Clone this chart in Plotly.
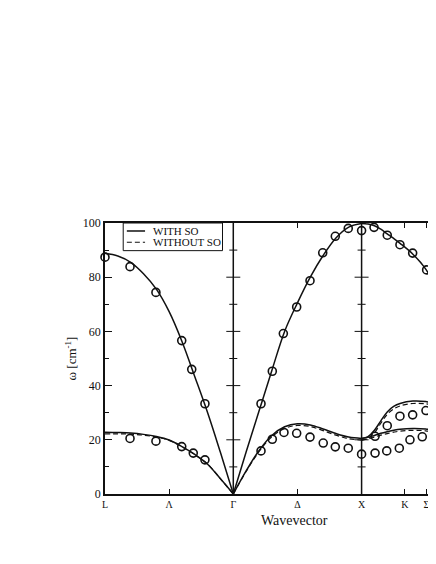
import plotly.graph_objects as go

# high-symmetry points along the path
sym_pos = [0.0, 0.5, 1.0, 1.5, 2.0, 2.338, 2.506]
sym_lbl = ['L', 'Λ', 'Γ', 'Δ', 'X', 'K', 'Σ']
x_end = 2.58

# L -> Gamma
q_lg = [0.0, 0.1, 0.2, 0.3, 0.4, 0.5, 0.6, 0.7, 0.8, 0.9, 1.0]
la_lg = [88.8, 87.8, 85.5, 81.3, 75.6, 67.3, 56.3, 43.3, 30.0, 15.3, 0.0]
ta_lg_so = [22.8, 22.7, 22.5, 22.0, 21.2, 19.9, 17.5, 14.6, 11.0, 5.6, 0.0]
ta_lg_noso = [22.2, 22.2, 22.1, 21.7, 21.0, 19.8, 17.4, 14.5, 11.0, 5.6, 0.0]

# Gamma -> X
q_gx = [1.0, 1.1, 1.2, 1.3, 1.4, 1.5, 1.6, 1.7, 1.8, 1.9, 2.0]
la_gx = [0.0, 15.5, 30.5, 45.5, 60.0, 70.5, 80.0, 88.0, 94.5, 98.5, 99.8]
ta_gx_so = [0.0, 8.5, 16.0, 21.6, 24.8, 25.9, 25.5, 24.0, 22.3, 21.0, 20.5]
ta_gx_noso = [0.0, 8.3, 15.6, 21.1, 24.2, 25.3, 24.9, 23.4, 21.7, 20.4, 19.9]

# X -> K -> Sigma
q_xk = [2.0, 2.05, 2.1, 2.15, 2.2, 2.25, 2.3, 2.4, 2.5, 2.58]
la_xk = [99.8, 99.6, 99.0, 97.7, 96.0, 94.3, 92.5, 88.5, 83.0, 76.0]
up_xk_so = [20.5, 21.2, 23.5, 27.0, 30.3, 32.3, 33.4, 34.3, 34.1, 33.3]
up_xk_noso = [19.9, 20.5, 22.6, 26.1, 29.4, 31.4, 32.5, 33.4, 33.3, 32.6]
lo_xk_so = [20.5, 20.9, 21.6, 22.4, 23.0, 23.5, 23.9, 24.2, 24.0, 23.3]
lo_xk_noso = [19.9, 20.3, 21.0, 21.7, 22.3, 22.8, 23.2, 23.5, 23.3, 22.6]

# experimental points
exp_q = [0.0, 0.195, 0.397, 0.598, 0.676, 0.779,
         0.195, 0.397, 0.598, 0.688, 0.779,
         1.216, 1.304, 1.39, 1.494, 1.598, 1.697, 1.795, 1.896, 2.0,
         2.097, 2.2, 2.299, 2.398, 2.507,
         1.216, 1.304, 1.395, 1.494, 1.598, 1.701, 1.795, 1.896, 2.0,
         2.105, 2.2, 2.299, 2.398, 2.502, 2.585,
         2.105, 2.196, 2.294, 2.377, 2.473, 2.575]
exp_w = [87.4, 83.9, 74.4, 56.6, 46.0, 33.3,
         20.5, 19.5, 17.5, 15.1, 12.6,
         33.3, 45.3, 59.2, 69.0, 78.7, 89.0, 95.1, 98.0, 97.2,
         98.4, 95.5, 92.0, 88.9, 82.7,
         15.9, 20.2, 22.7, 22.4, 21.0, 18.8, 17.4, 16.9, 14.7,
         21.3, 25.2, 28.7, 29.2, 30.8, 29.0,
         15.1, 15.9, 16.9, 20.0, 21.1, 21.4]

SERIF = 'Liberation Serif, Times New Roman, serif'
INK = '#111111'

fig = go.Figure()

solid = [(q_lg, la_lg), (q_lg, ta_lg_so), (q_gx, la_gx), (q_gx, ta_gx_so),
         (q_xk, la_xk), (q_xk, up_xk_so), (q_xk, lo_xk_so)]
dashed = [(q_lg, ta_lg_noso), (q_gx, ta_gx_noso), (q_xk, up_xk_noso), (q_xk, lo_xk_noso)]

for q, w in dashed:
    fig.add_trace(go.Scatter(x=q, y=w, mode='lines', line_shape='spline', showlegend=False,
                             line=dict(color=INK, width=1.2, dash='5px,3px')))
for q, w in solid:
    fig.add_trace(go.Scatter(x=q, y=w, mode='lines', line_shape='spline', showlegend=False,
                             line=dict(color=INK, width=1.5)))

fig.add_trace(go.Scatter(x=exp_q, y=exp_w, mode='markers', showlegend=False, cliponaxis=False,
                         marker=dict(symbol='circle-open', size=8, color=INK, line=dict(width=1.6))))

# vertical lines at Gamma and X with their little ticks
shapes = []
for xv in [1.0, 2.0]:
    shapes.append(dict(type='line', xref='x', yref='paper', x0=xv, x1=xv, y0=0, y1=1,
                       line=dict(color=INK, width=1.5)))
    for v in range(10, 100, 10):
        half = 7 if v % 20 == 0 else 4
        shapes.append(dict(type='line', xref='x', yref='y', xsizemode='pixel', xanchor=xv,
                           x0=-half, x1=half, y0=v, y1=v, line=dict(color=INK, width=1)))

# hand-drawn legend box
shapes.append(dict(type='rect', xref='paper', yref='paper', x0=0.055, x1=0.355, y0=0.898, y1=1.0,
                   line=dict(color=INK, width=1), fillcolor='white', layer='above'))
shapes.append(dict(type='line', xref='paper', yref='paper', x0=0.066, x1=0.121, y0=0.9705, y1=0.9705,
                   line=dict(color=INK, width=1.5), layer='above'))
shapes.append(dict(type='line', xref='paper', yref='paper', x0=0.066, x1=0.121, y0=0.929, y1=0.929,
                   line=dict(color=INK, width=1.2, dash='5px,3px'), layer='above'))

annotations = [
    dict(text='WITH SO', xref='paper', yref='paper', x=0.138, y=0.9705, xanchor='left',
         yanchor='middle', showarrow=False, font=dict(family=SERIF, size=11, color=INK)),
    dict(text='WITHOUT SO', xref='paper', yref='paper', x=0.138, y=0.929, xanchor='left',
         yanchor='middle', showarrow=False, font=dict(family=SERIF, size=11, color=INK)),
    dict(text='Wavevector', xref='paper', yref='paper', x=0.574, y=-0.062, xanchor='center',
         yanchor='top', showarrow=False, font=dict(family=SERIF, size=14, color=INK)),
]

# the page adds an 8px body margin; keep the figure inside the window so nothing scrolls
fig.update_layout(
    width=428, height=556,
    margin=dict(l=97, r=0, t=215, b=70),
    paper_bgcolor='white', plot_bgcolor='white',
    showlegend=False,
    shapes=shapes, annotations=annotations,
    font=dict(family=SERIF, color=INK),
)

fig.update_xaxes(range=[0, x_end], tickvals=sym_pos, ticktext=sym_lbl,
                 ticks='inside', ticklen=5, tickcolor=INK, tickwidth=1,
                 showline=True, linecolor=INK, linewidth=1.5, mirror='ticks',
                 showgrid=False, zeroline=False,
                 tickfont=dict(family=SERIF, size=10, color=INK))

fig.update_yaxes(range=[0, 100], tickvals=[0, 20, 40, 60, 80, 100],
                 ticks='inside', ticklen=7, tickcolor=INK, tickwidth=1,
                 minor=dict(tickvals=[10, 30, 50, 70, 90], ticks='inside', ticklen=4,
                            tickcolor=INK, showgrid=False),
                 showline=True, linecolor=INK, linewidth=1.5, mirror=False,
                 showgrid=False, zeroline=False,
                 tickfont=dict(family=SERIF, size=12, color=INK),
                 title=dict(text='ω [cm<sup>-1</sup>]', standoff=3,
                            font=dict(family=SERIF, size=13, color=INK)))

fig.write_html("out.html")
